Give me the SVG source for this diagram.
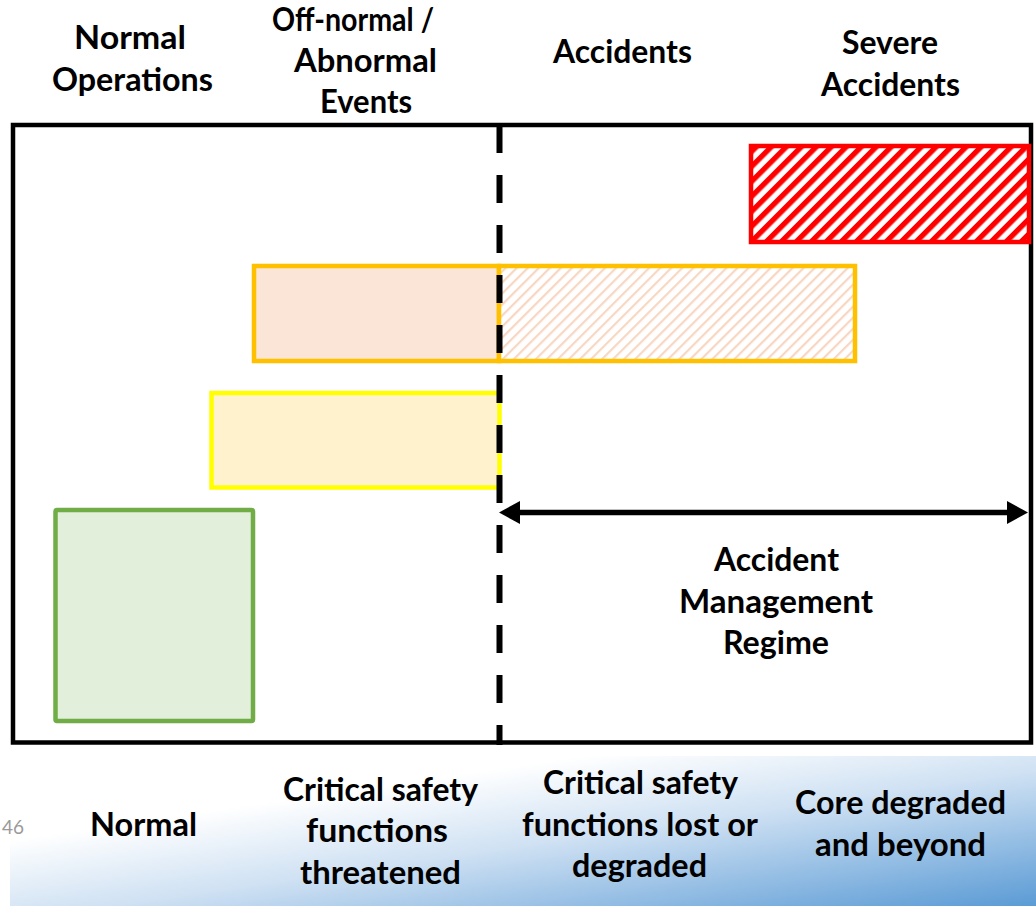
<svg xmlns="http://www.w3.org/2000/svg" width="1036" height="906" viewBox="0 0 1036 906">
<style>
.t{font-family:Lato,'Open Sans','Liberation Sans',sans-serif;font-weight:700;font-size:32px;fill:#000;text-anchor:middle}
.pg{font-family:Lato,'Open Sans','Liberation Sans',sans-serif;font-weight:400;font-size:20px;fill:#9A9A9A;text-anchor:middle}
.box{stroke-width:4.5}
</style>
<defs>
<pattern id="redHatch" patternUnits="userSpaceOnUse" width="10.6" height="10.6" patternTransform="rotate(45)">
<rect width="10.6" height="10.6" fill="#FFFFFF"/>
<rect width="5.3" height="10.6" fill="#FF0000"/>
</pattern>
<pattern id="peachHatch" patternUnits="userSpaceOnUse" width="7.8" height="7.8" patternTransform="rotate(45)">
<rect width="7.8" height="7.8" fill="#FFFFFF"/>
<rect width="2.2" height="7.8" fill="#F8D7C2"/>
</pattern>
<linearGradient id="band" x1="0" y1="0" x2="1" y2="1">
<stop offset="0" stop-color="#FFFFFF"/>
<stop offset="0.28" stop-color="#FFFFFF"/>
<stop offset="0.55" stop-color="#CFE1F3"/>
<stop offset="1" stop-color="#5B9BD5"/>
</linearGradient>
<marker id="head" markerUnits="userSpaceOnUse" markerWidth="22" markerHeight="23" viewBox="0 0 21 23" refX="0" refY="11.5" orient="auto-start-reverse">
<path d="M0,0 L21,11.5 L0,23 Z" fill="#000"/>
</marker>
</defs>

<g id="bottom-band">
<rect x="10" y="756" width="1026" height="150" fill="url(#band)"/>
</g>

<g id="frame">
<rect x="13" y="125" width="1018" height="617.5" fill="none" stroke="#000" stroke-width="4.5"/>
</g>

<g id="severe-box">
<rect class="box" x="751" y="146" width="278" height="96" fill="url(#redHatch)" stroke="#FF0000"/>
</g>
<g id="offnormal-accident-box">
<rect class="box" x="254" y="266" width="245" height="95" fill="#FBE5D6" stroke="#FFC000"/>
<rect class="box" x="499" y="266" width="356" height="95" fill="url(#peachHatch)" stroke="#FFC000"/>
</g>
<g id="abnormal-box">
<rect class="box" x="211.5" y="393" width="288" height="94.5" fill="#FFF2CC" stroke="#FFFF00"/>
</g>
<g id="normal-box">
<rect class="box" x="55.5" y="510" width="197.5" height="211" rx="1.5" fill="#E2EFDA" stroke="#70AD47"/>
</g>

<g id="connectors">
<line id="divider" x1="499.5" y1="125" x2="499.5" y2="745" stroke="#000" stroke-width="6" stroke-dasharray="28 22"/>
<line id="regime-arrow" x1="520" y1="512.5" x2="1007" y2="512.5" stroke="#000" stroke-width="5.5" marker-start="url(#head)" marker-end="url(#head)"/>
</g>

<g id="label-normal-operations">
<text class="t" x="130" y="49" textLength="112" lengthAdjust="spacingAndGlyphs">Normal</text>
<text class="t" x="132.5" y="91" textLength="161" lengthAdjust="spacingAndGlyphs">Operations</text>
</g>
<g id="label-offnormal">
<text class="t" x="353" y="31" textLength="162" lengthAdjust="spacingAndGlyphs">Off-normal /</text>
<text class="t" x="365.5" y="72" textLength="143" lengthAdjust="spacingAndGlyphs">Abnormal</text>
<text class="t" x="366" y="113" textLength="92" lengthAdjust="spacingAndGlyphs">Events</text>
</g>
<g id="label-accidents">
<text class="t" x="622.5" y="63" textLength="139" lengthAdjust="spacingAndGlyphs">Accidents</text>
</g>
<g id="label-severe-accidents">
<text class="t" x="890" y="54" textLength="96" lengthAdjust="spacingAndGlyphs">Severe</text>
<text class="t" x="890.5" y="96" textLength="139" lengthAdjust="spacingAndGlyphs">Accidents</text>
</g>
<g id="label-accident-management">
<text class="t" x="776.5" y="571" textLength="125" lengthAdjust="spacingAndGlyphs">Accident</text>
<text class="t" x="776" y="613" textLength="194" lengthAdjust="spacingAndGlyphs">Management</text>
<text class="t" x="776" y="654" textLength="106" lengthAdjust="spacingAndGlyphs">Regime</text>
</g>

<g id="page-number">
<text class="pg" x="13" y="834" textLength="22" lengthAdjust="spacingAndGlyphs">46</text>
</g>
<g id="state-normal">
<text class="t" x="143.5" y="836" textLength="107" lengthAdjust="spacingAndGlyphs">Normal</text>
</g>
<g id="state-threatened">
<text class="t" x="380.5" y="801" textLength="195" lengthAdjust="spacingAndGlyphs">Critical safety</text>
<text class="t" x="377" y="842" textLength="142" lengthAdjust="spacingAndGlyphs">functions</text>
<text class="t" x="380.5" y="884" textLength="161" lengthAdjust="spacingAndGlyphs">threatened</text>
</g>
<g id="state-lost">
<text class="t" x="640.5" y="794" textLength="195" lengthAdjust="spacingAndGlyphs">Critical safety</text>
<text class="t" x="640" y="836" textLength="236" lengthAdjust="spacingAndGlyphs">functions lost or</text>
<text class="t" x="639.5" y="877" textLength="135" lengthAdjust="spacingAndGlyphs">degraded</text>
</g>
<g id="state-core">
<text class="t" x="900.5" y="814" textLength="211" lengthAdjust="spacingAndGlyphs">Core degraded</text>
<text class="t" x="900.5" y="856" textLength="171" lengthAdjust="spacingAndGlyphs">and beyond</text>
</g>
</svg>
